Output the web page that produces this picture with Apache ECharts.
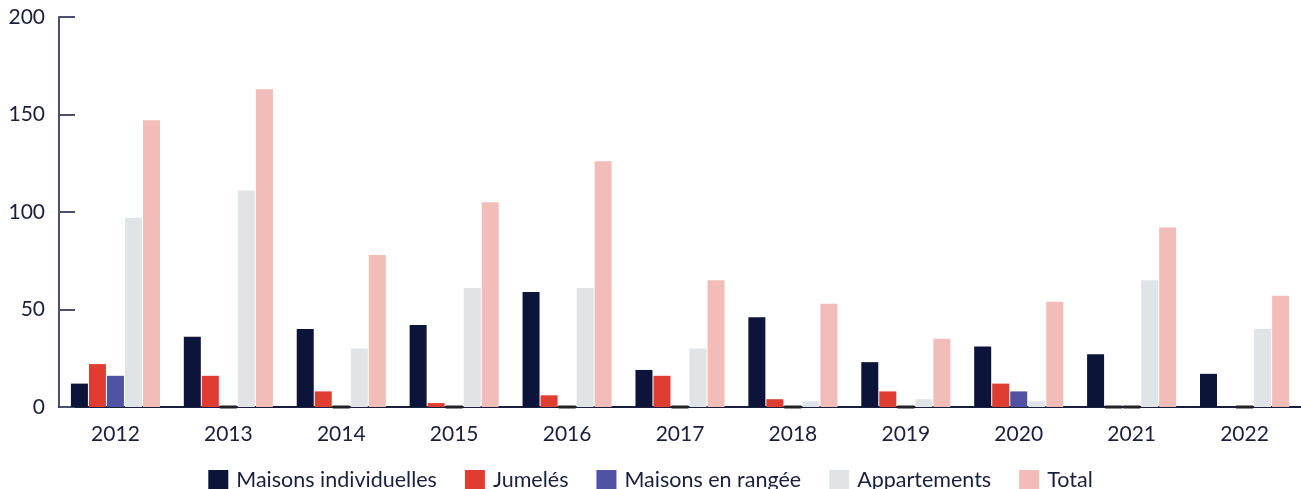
<!DOCTYPE html>
<html>
<head>
<meta charset="utf-8">
<script src="https://cdn.jsdelivr.net/npm/echarts@6/dist/echarts.min.js"></script>
<style>
  html, body { margin: 0; padding: 0; background: #fff; }
  #chart { width: 1301px; height: 489px; }
</style>
</head>
<body>
<div id="chart"></div>
<script>
// données
const years = ["2012", "2013", "2014", "2015", "2016", "2017", "2018", "2019", "2020", "2021", "2022"];
const maisonsIndividuelles = [12, 36, 40, 42, 59, 19, 46, 23, 31, 27, 17];
const jumeles = [22, 16, 8, 2, 6, 16, 4, 8, 12, 0, null];
const maisonsEnRangee = [16, 0, 0, 0, 0, 0, 0, 0, 8, 0, 0];
const appartements = [97, 111, 30, 61, 61, 30, 3, 4, 3, 65, 40];
const total = [147, 163, 78, 105, 126, 65, 53, 35, 54, 92, 57];
const yTicks = [0, 50, 100, 150, 200];

const textColor = "#1a1f3d";

// les valeurs nulles sont marquées d'un petit trait sombre sur l'axe
function withZeroMarks(arr) {
  return arr.map(function (v) {
    if (v === 0) {
      return { value: 0, itemStyle: { borderColor: "#222", borderWidth: 3 } };
    }
    return v === null ? "-" : v;
  });
}

function barSeries(name, data, color) {
  return {
    name: name,
    type: "bar",
    data: withZeroMarks(data),
    barWidth: 17,
    barGap: "6%",
    itemStyle: { color: color },
  };
}

document.addEventListener("DOMContentLoaded", function () {
  const chart = echarts.init(document.getElementById("chart"));
  const option = {
    animation: false,
    textStyle: { fontFamily: "Lato", color: textColor },
    grid: { left: 59, right: -3, top: 17, bottom: 82 },
    legend: {
      left: "center",
      top: 464,
      itemWidth: 20,
      itemHeight: 20,
      itemGap: 28,
      icon: "rect",
      textStyle: { fontSize: 21.5, color: textColor, fontFamily: "Lato", padding: [0, 0, 0, 3] },
    },
    xAxis: {
      type: "category",
      data: years,
      axisLine: { lineStyle: { color: textColor, width: 2 } },
      axisTick: { show: false },
      axisLabel: { fontSize: 21, color: textColor, margin: 17 },
    },
    yAxis: {
      type: "value",
      min: yTicks[0],
      max: yTicks[yTicks.length - 1],
      interval: yTicks[1] - yTicks[0],
      axisLine: { show: true, lineStyle: { color: "#4a506c", width: 2 } },
      axisTick: { show: true, inside: true, length: 16, lineStyle: { color: "#4a506c", width: 2 } },
      axisLabel: { fontSize: 21, color: textColor, margin: 14 },
      splitLine: { show: false },
    },
    series: [
      barSeries("Maisons individuelles", maisonsIndividuelles, "#0c1439"),
      barSeries("Jumelés", jumeles, "#df3d31"),
      barSeries("Maisons en rangée", maisonsEnRangee, "#5052a3"),
      barSeries("Appartements", appartements, "#e0e4e7"),
      barSeries("Total", total, "#f2bcb9"),
    ],
  };
  chart.setOption(option);
  window.addEventListener("resize", function () {
    chart.resize();
  });
});
</script>
</body>
</html>
